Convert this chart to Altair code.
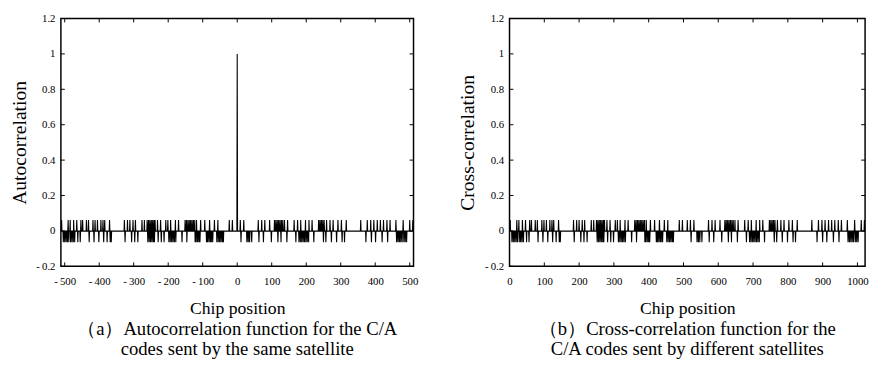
import altair as alt
import pandas as pd

# ---- data ----
# values of the three-level correlation and the peak
up_value = 0.0616      # 63/1023
down_value = -0.0635   # -65/1023
base_value = -0.001    # -1/1023
peak_value = 1.0

# (a) autocorrelation: chip lags -511..511
auto_lag_min, auto_lag_max = -511, 511
auto_peak = [0]
auto_up = [-509, -490, -484, -474, -465, -453, -448, -437, -431, -418, -412, -405, -395, -389,
           -384, -370, -327, -318, -311, -302, -295, -276, -269, -261, -257, -253, -249, -245,
           -241, -238, -231, -222, -207, -201, -193, -179, -170, -151, -147, -143, -139, -135,
           -131, -127, -123, -118, -106, -94, -80, -66, -56, -23, -14, 9, 19, 61, 71, 80, 94,
           108, 112, 116, 120, 124, 128, 132, 137, 146, 165, 175, 184, 198, 208, 217, 236, 240,
           244, 248, 252, 259, 269, 278, 292, 302, 316, 358, 377, 387, 396, 406, 415, 424, 434,
           443, 460, 481, 500, 509]
auto_down = [-504, -500, -496, -492, -488, -483, -479, -475, -471, -462, -455, -429, -415, -401,
             -387, -377, -368, -365, -325, -306, -297, -288, -259, -255, -251, -247, -243, -240,
             -229, -220, -212, -198, -194, -190, -186, -182, -178, -160, -146, -122, -119, -115,
             -111, -108, -89, -86, -82, -78, -75, -71, -59, -55, -51, -47, -43, -40, 11, 28, 32,
             36, 42, 63, 76, 99, 118, 127, 144, 170, 179, 183, 187, 191, 195, 199, 203, 207, 222,
             250, 257, 273, 288, 304, 311, 373, 389, 401, 420, 436, 462, 466, 470, 474, 478, 483,
             487, 491]

# (b) cross-correlation: chip positions 0..1022
cross_lag_min, cross_lag_max = 0, 1022
cross_peak = []
cross_up = [2, 21, 27, 37, 46, 58, 63, 74, 80, 93, 99, 106, 116, 122, 127, 141, 184, 193, 200,
            209, 216, 235, 242, 250, 254, 258, 262, 266, 270, 273, 280, 289, 304, 310, 318, 332,
            341, 360, 364, 368, 372, 376, 380, 384, 388, 393, 405, 417, 431, 445, 455, 488, 497,
            511, 520, 530, 572, 582, 591, 605, 619, 623, 627, 631, 635, 639, 643, 648, 657, 676,
            686, 695, 709, 719, 728, 747, 751, 755, 759, 763, 770, 780, 789, 803, 813, 827, 869,
            888, 898, 907, 917, 926, 935, 945, 954, 971, 992, 1011, 1020]
cross_down = [7, 11, 15, 19, 23, 28, 32, 36, 40, 49, 56, 82, 96, 110, 124, 134, 143, 146, 186,
              205, 214, 223, 252, 256, 260, 264, 268, 271, 282, 291, 299, 313, 317, 321, 325,
              329, 333, 351, 365, 389, 392, 396, 400, 403, 422, 425, 429, 433, 436, 440, 452,
              456, 460, 464, 468, 471, 522, 539, 543, 547, 553, 574, 587, 610, 629, 638, 655,
              681, 690, 694, 698, 702, 706, 710, 714, 718, 733, 761, 768, 784, 799, 815, 822,
              884, 900, 912, 931, 947, 973, 977, 981, 985, 989, 994, 998, 1002]

y_ticks = [-0.2, 0, 0.2, 0.4, 0.6, 0.8, 1, 1.2]
auto_x_ticks = [-500, -400, -300, -200, -100, 0, 100, 200, 300, 400, 500]
cross_x_ticks = [0, 100, 200, 300, 400, 500, 600, 700, 800, 900, 1000]

caption_a = ["\uff08a\uff09Autocorrelation function for the C/A", "codes sent by the same satellite"]
caption_b = ["\uff08b\uff09Cross-correlation function for the", "C/A codes sent by different satellites"]

FONT = "Liberation Serif"
Y_MIN, Y_MAX = -0.2, 1.2
LABEL_EXPR = "replace(format(datum.value, '~g'), '\u2212', '-\u2009')"


def series(lo, hi, ups, downs, peaks):
    rows = []
    for k in range(lo, hi + 1):
        if k in peaks:
            v = peak_value
        elif k in ups:
            v = up_value
        elif k in downs:
            v = down_value
        else:
            v = base_value
        rows.append({"lag": k, "value": v})
    return pd.DataFrame(rows)


def panel(df, lo, hi, xticks, ytitle, caption, width):
    xs = alt.Scale(domain=[lo, hi], nice=False, zero=False)
    ys = alt.Scale(domain=[Y_MIN, Y_MAX], nice=False, zero=False)
    tick_len_x = (hi - lo) * 4.0 / width      # 4 px in data units
    tick_len_y = (Y_MAX - Y_MIN) * 4.0 / 253

    x_axis = alt.Axis(values=xticks, title="Chip position", grid=False, ticks=False,
                      domain=False, labelPadding=10, titlePadding=13,
                      labelExpr=LABEL_EXPR, labelOverlap=False,
                      labelFont=FONT, labelFontSize=11, titleFont=FONT,
                      titleFontSize=18, titleFontWeight="normal", labelColor="black",
                      titleColor="black", labelFlush=False)
    y_axis = alt.Axis(values=y_ticks, title=ytitle, grid=False, ticks=False,
                      domain=False, labelPadding=6, titlePadding=7,
                      labelExpr=LABEL_EXPR, labelOverlap=False,
                      labelFont=FONT, labelFontSize=11, titleFont=FONT,
                      titleFontSize=20, titleFontWeight="normal", labelColor="black",
                      titleColor="black")

    line = alt.Chart(df).mark_line(color="black", strokeWidth=1.1).encode(
        x=alt.X("lag:Q", scale=xs, axis=x_axis),
        y=alt.Y("value:Q", scale=ys, axis=y_axis),
    )

    xt = pd.DataFrame({"t": xticks})
    xt["b0"], xt["b1"] = Y_MIN, Y_MIN + tick_len_y
    xt["t0"], xt["t1"] = Y_MAX, Y_MAX - tick_len_y
    yt = pd.DataFrame({"t": y_ticks})
    yt["l0"], yt["l1"] = lo, lo + tick_len_x
    yt["r0"], yt["r1"] = hi, hi - tick_len_x

    rule = dict(color="black", strokeWidth=1)
    bottom = alt.Chart(xt).mark_rule(**rule).encode(
        x=alt.X("t:Q", scale=xs, axis=x_axis), y=alt.Y("b0:Q", scale=ys, axis=y_axis), y2="b1:Q")
    top = alt.Chart(xt).mark_rule(**rule).encode(
        x=alt.X("t:Q", scale=xs, axis=x_axis), y=alt.Y("t0:Q", scale=ys, axis=y_axis), y2="t1:Q")
    left = alt.Chart(yt).mark_rule(**rule).encode(
        y=alt.Y("t:Q", scale=ys, axis=y_axis), x=alt.X("l0:Q", scale=xs, axis=x_axis), x2="l1:Q")
    right = alt.Chart(yt).mark_rule(**rule).encode(
        y=alt.Y("t:Q", scale=ys, axis=y_axis), x=alt.X("r0:Q", scale=xs, axis=x_axis), x2="r1:Q")

    return alt.layer(line, bottom, top, left, right).properties(
        width=width, height=253,
        title=alt.TitleParams(text=caption, orient="bottom", font=FONT, fontSize=19,
                              fontWeight="normal", color="black", lineHeight=21, offset=3,
                              anchor="middle"),
    )


auto_df = series(auto_lag_min, auto_lag_max, set(auto_up), set(auto_down), set(auto_peak))
cross_df = series(cross_lag_min, cross_lag_max, set(cross_up), set(cross_down), set(cross_peak))

left_panel = panel(auto_df, auto_lag_min, auto_lag_max, auto_x_ticks, "Autocorrelation", caption_a, 360)
right_panel = panel(cross_df, cross_lag_min, cross_lag_max, cross_x_ticks, "Cross-correlation", caption_b, 363)

chart = alt.hconcat(left_panel, right_panel, spacing=38).properties(
    padding={"left": 0, "top": 0, "right": 0, "bottom": 0},
    background="white",
).configure_view(stroke="black", strokeWidth=1.5)

chart.save("out.html", embed_options={"renderer": "svg", "actions": False})
